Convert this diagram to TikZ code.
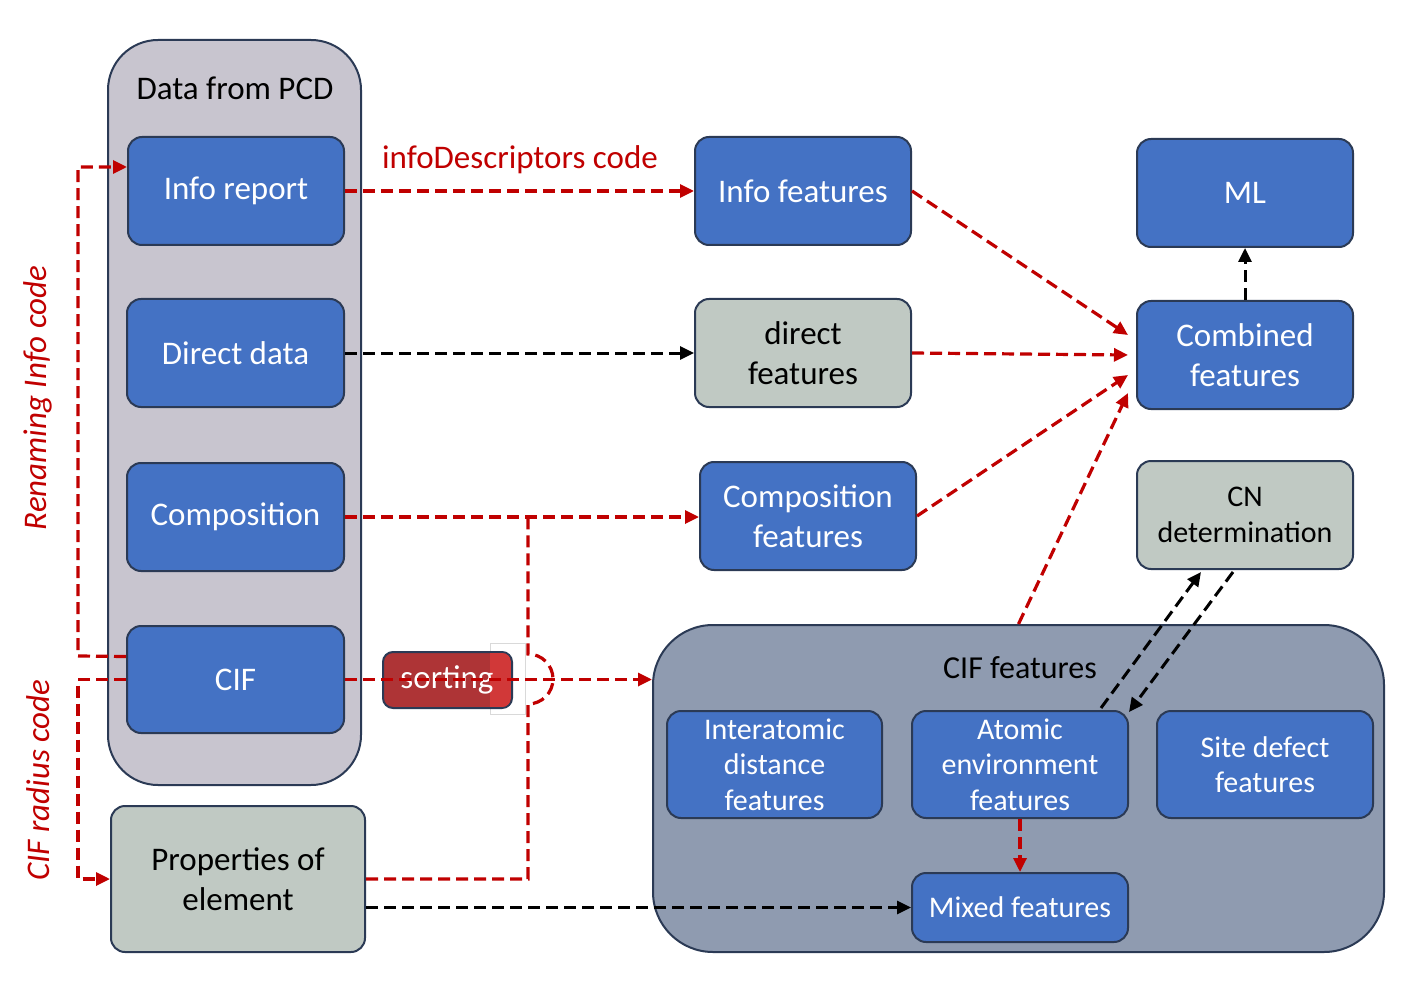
\documentclass[tikz,border=0pt]{standalone}
\usepackage{fontspec}
\setmainfont{Carlito}
\usetikzlibrary{arrows.meta,calc}
\definecolor{bblue}{HTML}{4472C4}
\definecolor{bord}{HTML}{2B3A55}
\definecolor{ggray}{HTML}{C0C9C3}
\definecolor{pcdfill}{HTML}{C8C5CF}
\definecolor{ciffill}{HTML}{8F9BB0}
\definecolor{dred}{HTML}{C00000}
\definecolor{sortred}{HTML}{AE3436}
\definecolor{sortlight}{HTML}{D13838}
\tikzset{
  bluebox/.style={draw=bord, line width=2pt, rounded corners=14pt, fill=bblue, text=white,
    minimum width=216pt, minimum height=108pt, align=center, font=\fontsize{33}{40}\selectfont},
  graybox/.style={bluebox, fill=ggray, text=black},
  smallbox/.style={bluebox, font=\fontsize{30}{35.5}\selectfont},
  redarr/.style={draw=dred, line width=3.2pt, dash pattern=on 12pt off 6pt, -{Triangle[length=14pt,width=13pt]}},
  redline/.style={draw=dred, line width=3.2pt, dash pattern=on 12pt off 6pt},
  blkarr/.style={draw=black, line width=3pt, dash pattern=on 12pt off 6pt, -{Triangle[length=14pt,width=13pt]}},
}
\begin{document}
\begin{tikzpicture}[x=1pt,y=-1pt]
\useasboundingbox (0,0) rectangle (1424,984);
% big containers
\node[draw=bord, line width=2pt, rounded corners=50pt, fill=pcdfill, minimum width=253pt, minimum height=745pt] (pcd) at (234.5,412.5) {};
\node[font=\fontsize{33}{40}\selectfont] (pcdl) at (235,88) {Data from PCD};
\node[draw=bord, line width=2pt, rounded corners=60pt, fill=ciffill, minimum width=731pt, minimum height=327pt] (cfb) at (1018.5,788.5) {};
\node[font=\fontsize{32}{40}\selectfont] (cfbl) at (1020,668) {CIF features};
% left column
\node[bluebox] (ir) at (236,191) {Info report};
\node[bluebox, minimum width=217pt] (dd) at (235.5,353) {Direct data};
\node[bluebox, minimum width=217pt] (co) at (235.5,517) {Composition};
\node[bluebox, minimum width=217pt, minimum height=107pt] (cif) at (235.5,679.5) {CIF};
\node[graybox, minimum width=254pt, minimum height=146pt, font=\fontsize{33}{40}\selectfont] (pe) at (238,879) {Properties of\\element};
% middle column
\node[bluebox] (if) at (803,191) {Info features};
\node[graybox] (df) at (803,353) {direct\\features};
\node[bluebox] (cf) at (808,516) {Composition\\features};
% right column
\node[bluebox] (ml) at (1245,193) {ML};
\node[bluebox] (cb) at (1245,355) {Combined\\features};
\node[graybox, font=\fontsize{30}{36}\selectfont] (cn) at (1245,515) {CN\\determination};
% CIF features inner
\node[smallbox, minimum width=215pt, minimum height=107pt] (id) at (774.5,764.5) {Interatomic\\distance\\features};
\node[smallbox, minimum height=107pt] (ae) at (1020,764.5) {Atomic\\environment\\features};
\node[smallbox, minimum height=107pt] (sd) at (1265,764.5) {Site defect\\features};
\node[smallbox, minimum height=69pt] (mf) at (1020,907.5) {Mixed features};
% sorting
\draw[draw=black!15, line width=0.8pt] (490,643) rectangle (525,714);
\node[draw=bord, line width=2pt, rounded corners=10pt, fill=sortred, minimum width=129pt, minimum height=56pt] (so) at (447.5,680) {};
\begin{scope}
\clip[rounded corners=9pt] (384,653) rectangle (511,707);
\fill[sortlight] (490,653) rectangle (511,707);
\end{scope}
\node[text=white, font=\fontsize{33}{40}\selectfont] (sol) at (447,680) {sorting};
% labels
\node[text=dred, font=\fontsize{33}{40}\selectfont] (idc) at (520,160) {infoDescriptors code};
\node[text=dred, rotate=90, font=\itshape\fontsize{33}{40}\selectfont] (ric) at (38,398) {Renaming Info code};
\node[text=dred, rotate=90, font=\itshape\fontsize{33}{40}\selectfont] (crc) at (38,780) {CIF radius code};
% connectors
\coordinate (j) at (528,517);
\draw[redarr] (ir.east) -- (if.west);
\draw[blkarr] (dd.east) -- (df.west);
\draw[redarr] (co.east) -- (co.east -| cf.west);
\draw[redarr] (cif.east) -- (cif.east -| cfb.west);
\draw[redline] (pe.east) -- (528,879) -- (528,704) arc[start angle=90, end angle=-90, radius=25] -- (j);
\draw[blkarr] (pe.east |- mf.west) -- (mf.west);
\draw[redarr] (if.east) -- ($(cb.west)+(-8,-20)$);
\draw[redarr] (df.east) -- ($(cb.west)+(-8,0)$);
\draw[redarr] (cf.east) -- ($(cb.west)+(-8,20)$);
\draw[redarr] (cfb.north) -- ($(cb.west)+(-8,38)$);
\draw[blkarr] (cb.north) -- (ml.south);
\draw[blkarr] ($(ae.north east)+(-28,-2)$) -- ($(cn.south west)+(65,2)$);
\draw[blkarr] ($(cn.south west)+(97,2)$) -- ($(ae.north east)+(0,2)$);
\draw[redarr] (ae.south) -- (mf.north);
\draw[redarr] ($(cif.west)+(0,-23)$) -- (78,656) -- (78,167) -- ($(ir.west)+(0,-24)$);
\draw[redarr] (cif.west) -- (78,679.5) -- (78,879) -- (pe.west);
\end{tikzpicture}
\end{document}
